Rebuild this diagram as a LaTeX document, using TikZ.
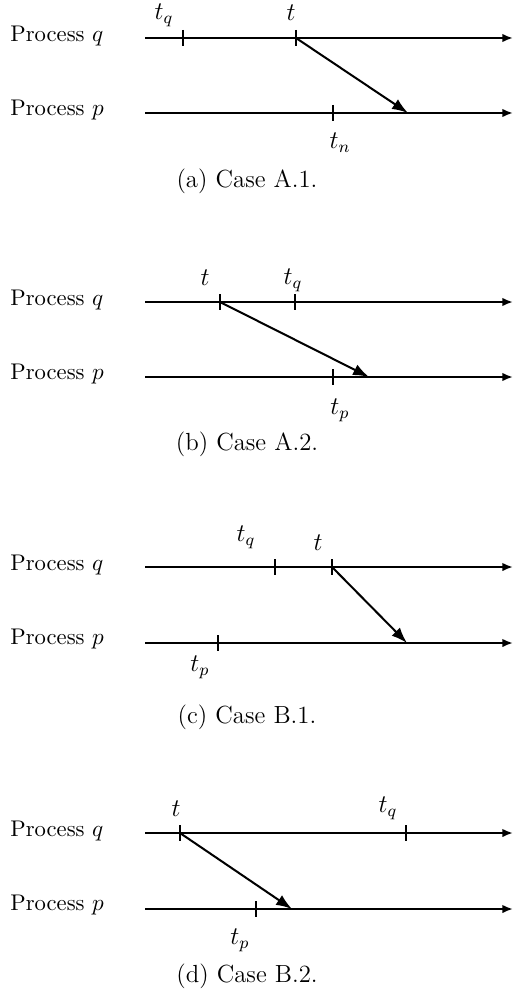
\documentclass[tikz,border=0pt]{standalone}
\usepackage{amsmath}
\usepackage{tikz}
\usetikzlibrary{arrows.meta}
\tikzset{
	proc/.style={anchor=west, inner sep=0pt, font=\fontsize{10.7}{13}\selectfont},
	tl/.style={line width=0.95pt, -{Latex[length=5pt,width=4pt]}},
	msg/.style={line width=0.95pt, -{Latex[length=7.5pt,width=5.5pt]}},
	tck/.style={line width=0.95pt},
	lbl/.style={inner sep=0pt, font=\fontsize{12}{14}\selectfont},
	captxt/.style={inner sep=0pt, font=\fontsize{11.7}{14}\selectfont},
}

\begin{document}
\begin{tikzpicture}[x=0.0166cm, y=-0.0166cm]
				\useasboundingbox (0,0) rectangle (513,993);
				% (a) Case A.1.
				\node[proc] at (10,36) (pqa) {Process $q$};
				\node[proc] at (10,110) (ppa) {Process $p$};
				\coordinate (qsa) at (145,38); \coordinate (qea) at (513,38);
				\coordinate (psa) at (145,113); \coordinate (pea) at (513,113);
				\coordinate (tqa) at (183,38); \coordinate (ta) at (296,38);
				\coordinate (tpa) at (333,113); \coordinate (ra) at (408,113);
				\draw[tl] (qsa) -- (qea);
				\draw[tl] (psa) -- (pea);
				\draw[tck] (tqa) ++(0,-8) -- ++(0,16);
				\draw[tck] (ta) ++(0,-8) -- ++(0,16);
				\draw[tck] (tpa) ++(0,-8) -- ++(0,16);
				\draw[msg] (ta) -- (ra);
				\node[lbl] at (164,15) (ltqa) {$t_q$};
				\node[lbl] at (291,13) (lta) {$t$};
				\node[lbl] at (340,143) (ltpa) {$t_n$};
				\node[captxt] at (247,181) (capa) {(a) Case A.1.};
				% (b) Case A.2.
				\node[proc] at (10,300) (pqb) {Process $q$};
				\node[proc] at (10,374) (ppb) {Process $p$};
				\coordinate (qsb) at (145,302); \coordinate (qeb) at (513,302);
				\coordinate (psb) at (145,377); \coordinate (peb) at (513,377);
				\coordinate (tb) at (220,302); \coordinate (tqb) at (295,302);
				\coordinate (tpb) at (333,377); \coordinate (rb) at (369,377);
				\draw[tl] (qsb) -- (qeb);
				\draw[tl] (psb) -- (peb);
				\draw[tck] (tb) ++(0,-8) -- ++(0,16);
				\draw[tck] (tqb) ++(0,-8) -- ++(0,16);
				\draw[tck] (tpb) ++(0,-8) -- ++(0,16);
				\draw[msg] (tb) -- (rb);
				\node[lbl] at (205,278) (ltb) {$t$};
				\node[lbl] at (293,280) (ltqb) {$t_q$};
				\node[lbl] at (340,410) (ltpb) {$t_p$};
				\node[captxt] at (247,444) (capb) {(b) Case A.2.};
				% (c) Case B.1.
				\node[proc] at (10,565) (pqc) {Process $q$};
				\node[proc] at (10,639) (ppc) {Process $p$};
				\coordinate (qsc) at (145,567); \coordinate (qec) at (513,567);
				\coordinate (psc) at (145,643); \coordinate (pec) at (513,643);
				\coordinate (tqc) at (275,567); \coordinate (tc) at (332,567);
				\coordinate (tpc) at (218,643); \coordinate (rc) at (407,643);
				\draw[tl] (qsc) -- (qec);
				\draw[tl] (psc) -- (pec);
				\draw[tck] (tqc) ++(0,-8) -- ++(0,16);
				\draw[tck] (tc) ++(0,-8) -- ++(0,16);
				\draw[tck] (tpc) ++(0,-8) -- ++(0,16);
				\draw[msg] (tc) -- (rc);
				\node[lbl] at (246,537) (ltqc) {$t_q$};
				\node[lbl] at (318,543) (ltc) {$t$};
				\node[lbl] at (200,667) (ltpc) {$t_p$};
				\node[captxt] at (247,717) (capc) {(c) Case B.1.};
				% (d) Case B.2.
				\node[proc] at (10,831) (pqd) {Process $q$};
				\node[proc] at (10,905) (ppd) {Process $p$};
				\coordinate (qsd) at (145,833); \coordinate (qed) at (513,833);
				\coordinate (psd) at (145,909); \coordinate (ped) at (513,909);
				\coordinate (td) at (180,833); \coordinate (tqd) at (406,833);
				\coordinate (tpd) at (256,909); \coordinate (rd) at (292,909);
				\draw[tl] (qsd) -- (qed);
				\draw[tl] (psd) -- (ped);
				\draw[tck] (td) ++(0,-8) -- ++(0,16);
				\draw[tck] (tqd) ++(0,-8) -- ++(0,16);
				\draw[tck] (tpd) ++(0,-8) -- ++(0,16);
				\draw[msg] (td) -- (rd);
				\node[lbl] at (176,809) (ltd) {$t$};
				\node[lbl] at (388,808) (ltqd) {$t_q$};
				\node[lbl] at (240,940) (ltpd) {$t_p$};
				\node[captxt] at (247,976) (capd) {(d) Case B.2.};
			\end{tikzpicture}
\end{document}
